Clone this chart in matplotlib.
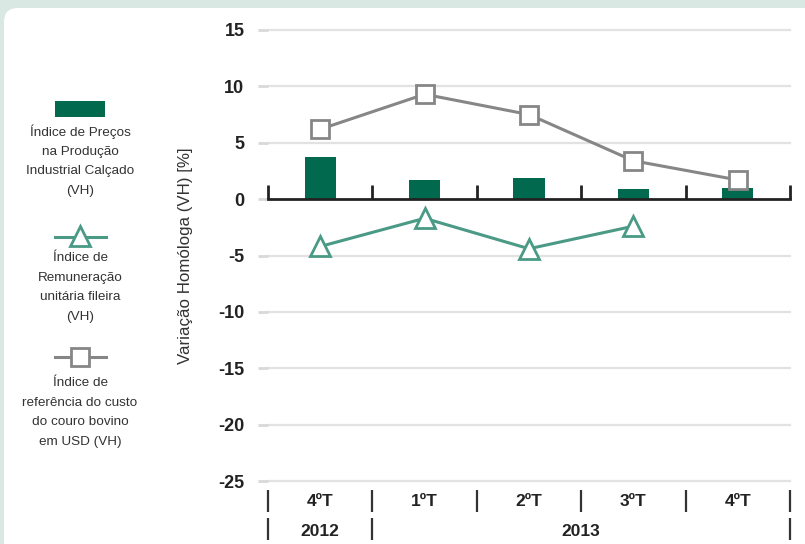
import matplotlib.pyplot as plt
from matplotlib.patches import FancyBboxPatch, Rectangle

plt.rcParams["font.family"] = ["Liberation Sans", "DejaVu Sans"]

quarters = ["4ºT", "1ºT", "2ºT", "3ºT", "4ºT"]
years = ["2012", "2013"]
year_spans = [(0, 1), (1, 5)]  # quarter index ranges per year

precos = [3.7, 1.7, 1.9, 0.9, 1.0]
remuneracao = [-4.2, -1.7, -4.4, -2.4]
couro = [6.2, 9.3, 7.5, 3.4, 1.7]

yticks = [15, 10, 5, 0, -5, -10, -15, -20, -25]

GREEN = "#00694e"
TEAL = "#4a9a86"
GREY = "#868686"
BG = "#d9e8e3"

W, H = 805, 544
fig = plt.figure(figsize=(W / 100, H / 100), dpi=100)
fig.patch.set_facecolor(BG)

# background panel + legend, drawn in pixel coordinates
bg = fig.add_axes([0, 0, 1, 1])
bg.set_xlim(0, W)
bg.set_ylim(H, 0)
bg.axis("off")
bg.add_patch(FancyBboxPatch((4, 8), W + 40, H + 40,
                            boxstyle="round,pad=0,rounding_size=14",
                            fc="white", ec="none"))

cx = 80
bg.add_patch(Rectangle((55, 101), 50, 16, fc=GREEN, ec="none"))
bg.plot([55, 106], [237, 237], color=TEAL, lw=2.2)
bg.plot([cx], [236], marker="^", ms=14, mfc="white", mec=TEAL, mew=2)
bg.plot([55, 106], [357, 357], color=GREY, lw=2.2)
bg.plot([cx], [357], marker="s", ms=13, mfc="white", mec=GREY, mew=2)

legend_texts = [
    (132, ["Índice de Preços", "na Produção", "Industrial Calçado", "(VH)"]),
    (258, ["Índice de", "Remuneração", "unitária fileira", "(VH)"]),
    (383, ["Índice de", "referência do custo", "do couro bovino", "em USD (VH)"]),
]
for y0, lines in legend_texts:
    for i, s in enumerate(lines):
        bg.text(cx, y0 + i * 19.7, s, ha="center", va="center",
                fontsize=9.7, color="#333333")

# main chart
ax = fig.add_axes([268 / W, 1 - 481 / H, (790 - 268) / W, (481 - 30) / H])
ax.patch.set_alpha(0)
x = list(range(len(quarters)))
ax.set_xlim(-0.5, len(quarters) - 0.5)
ax.set_ylim(-25, 15)

for s in ax.spines.values():
    s.set_visible(False)

ax.set_yticks(yticks)
ax.set_yticklabels([str(t) for t in yticks], fontsize=13, fontweight="bold",
                   color="#222222")
ax.tick_params(axis="y", length=7, width=2, color="#d8d8d8", pad=10)
ax.get_yticklines()[2 * yticks.index(0)].set_color("#222222")
ax.set_xticks([])
for t in yticks:
    if t != 0:
        ax.axhline(t, color="#e2e2e2", lw=1.6, zorder=0, clip_on=False)

ax.bar(x, precos, width=0.3, color=GREEN, zorder=2)

# zero line with category dividers
bounds = [i - 0.5 for i in range(len(quarters) + 1)]
ax.axhline(0, color="#222222", lw=2, zorder=3, clip_on=False)
ax.vlines(bounds, 0, 1.25, color="#222222", lw=2, zorder=3, clip_on=False)

ax.plot(x[:len(remuneracao)], remuneracao, color=TEAL, lw=2.2, marker="^",
        ms=14, mfc="white", mec=TEAL, mew=2, zorder=4, clip_on=False)
ax.plot(x, couro, color=GREY, lw=2.2, marker="s", ms=13, mfc="white",
        mec=GREY, mew=2, zorder=4, clip_on=False)

ax.set_ylabel("Variação Homóloga (VH) [%]", fontsize=12.2, color="#333333",
              labelpad=18)

# quarter / year labels below the axis
xt = ax.get_xaxis_transform()
ax.vlines(bounds, -0.020, -0.069, color="#333333", lw=1.6, transform=xt,
          clip_on=False)
for i, q in enumerate(quarters):
    ax.text(i, -0.0445, q, transform=xt, ha="center", va="center",
            fontsize=12.5, fontweight="bold", color="#222222")
year_bounds = sorted({b for span in year_spans for b in span})
ax.vlines([b - 0.5 for b in year_bounds], -0.082, -0.131, color="#333333",
          lw=1.6, transform=xt, clip_on=False)
for yr, (a, b) in zip(years, year_spans):
    ax.text((a + b - 1) / 2, -0.111, yr, transform=xt, ha="center",
            va="center", fontsize=12.5, fontweight="bold", color="#222222")

fig.savefig("out.png", dpi=100, facecolor=fig.get_facecolor())
